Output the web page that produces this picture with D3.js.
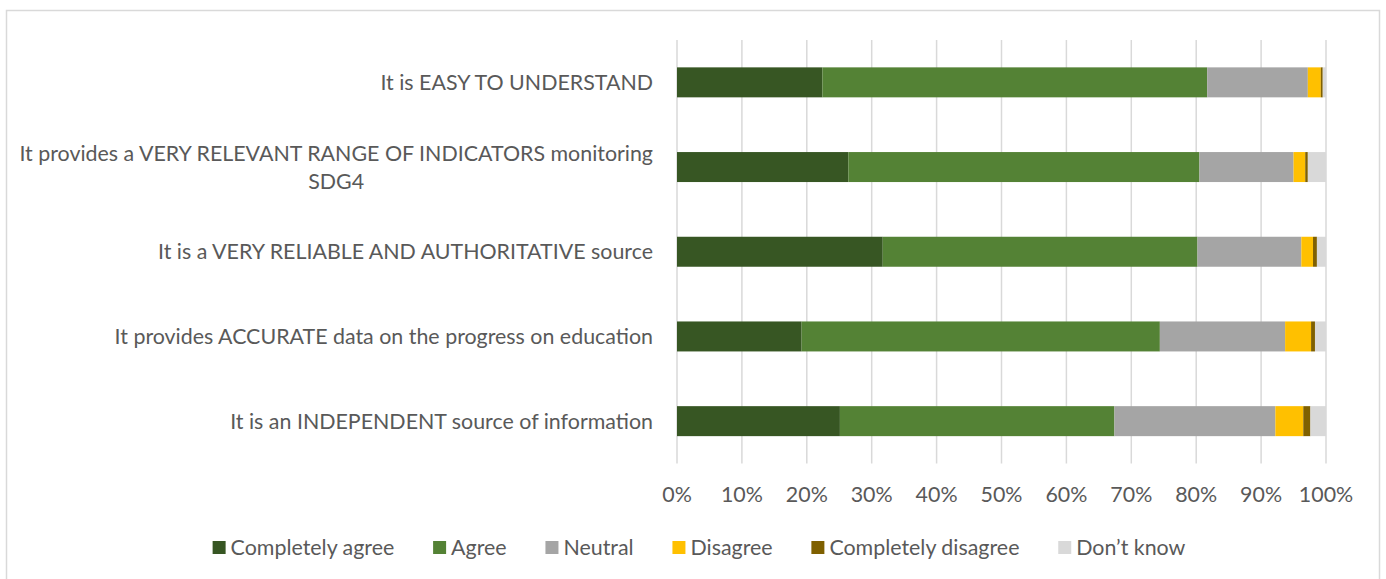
<!DOCTYPE html>
<html>
<head>
<meta charset="utf-8">
<script src="https://cdn.jsdelivr.net/npm/d3@7"></script>
<style>
  body { margin: 0; background: #fff; }
  svg text { font-family: Lato, "Open Sans", sans-serif; fill: #595959; }
</style>
</head>
<body>
<svg id="chart"></svg>
<script>
const categories = [
  "It is EASY TO UNDERSTAND",
  "It provides a VERY RELEVANT RANGE OF INDICATORS monitoring|SDG4",
  "It is a VERY RELIABLE AND AUTHORITATIVE source",
  "It provides ACCURATE data on the progress on education",
  "It is an INDEPENDENT source of information"
]
const seriesNames = ["Completely agree", "Agree", "Neutral", "Disagree", "Completely disagree", "Don\u2019t know"]
const seriesColors = ["#375623", "#548235", "#a5a5a5", "#ffc000", "#7f6000", "#d9d9d9"]

const completelyAgree    = [22.4, 26.4, 31.7, 19.2, 25.1]
const agree              = [59.3, 54.1, 48.5, 55.2, 42.3]
const neutral            = [15.5, 14.5, 16.0, 19.3, 24.8]
const disagree           = [2.0, 1.8, 1.8, 4.0, 4.3]
const completelyDisagree = [0.3, 0.4, 0.6, 0.6, 1.1]
const dontKnow           = [0.5, 2.8, 1.4, 1.7, 2.4]

const tickValues = [0, 10, 20, 30, 40, 50, 60, 70, 80, 90, 100]

const width = 1386, height = 579
const fs = '21.4px'

const svg = d3.select('#chart')
  .attr('width', width)
  .attr('height', height)

// chart frame
svg.append('rect')
  .attr('x', 6.5).attr('y', 10.5)
  .attr('width', 1373).attr('height', 600)
  .attr('fill', 'none')
  .attr('stroke', '#d9d9d9')
  .attr('stroke-width', 1.5)

const table = categories.map((c, i) => ({
  cat: c,
  values: [completelyAgree[i], agree[i], neutral[i], disagree[i], completelyDisagree[i], dontKnow[i]]
}))

const x = d3.scaleLinear().domain([0, 100]).range([677, 1326])
const y = d3.scaleBand().domain(categories).range([40, 463.5]).paddingInner(0.646).paddingOuter(0.323)

// gridlines
svg.append('g')
  .selectAll('line')
  .data(tickValues)
  .enter().append('line')
  .attr('x1', d => x(d)).attr('x2', d => x(d))
  .attr('y1', 40).attr('y2', 463.5)
  .style('stroke', '#d9d9d9')
  .attr('stroke-width', 1.5)

// stacked bars
const rows = svg.append('g')
  .selectAll('g')
  .data(table)
  .enter().append('g')

rows.selectAll('rect')
  .data(d => {
    let acc = 0
    return d.values.map((v, k) => {
      const seg = { cat: d.cat, k: k, x0: acc, x1: acc + v }
      acc += v
      return seg
    })
  })
  .enter().append('rect')
  .attr('x', d => x(d.x0))
  .attr('width', d => Math.max(0, x(d.x1) - x(d.x0)))
  .attr('y', d => y(d.cat))
  .attr('height', y.bandwidth())
  .attr('fill', d => seriesColors[d.k])

// category labels
const labelRight = 653
rows.each(function (d) {
  const lines = d.cat.split('|')
  const g = d3.select(this)
  const cy = y(d.cat) + y.bandwidth() / 2
  const lh = 28
  const t = g.append('text')
    .style('font-size', fs)
  lines.forEach((ln, i) => {
    t.append('tspan')
      .attr('y', cy + (i - (lines.length - 1) / 2) * lh)
      .attr('dy', '0.35em')
      .text(ln)
  })
  if (lines.length === 1) {
    t.attr('text-anchor', 'end')
    t.selectAll('tspan').attr('x', labelRight)
  } else {
    const tspans = t.selectAll('tspan').nodes()
    const maxW = d3.max(tspans, n => n.getComputedTextLength())
    t.attr('text-anchor', 'middle')
    t.selectAll('tspan').attr('x', labelRight - maxW / 2)
  }
})

// x tick labels
svg.append('g')
  .selectAll('text')
  .data(tickValues)
  .enter().append('text')
  .attr('x', d => x(d))
  .attr('y', 495)
  .attr('dy', '0.35em')
  .attr('text-anchor', 'middle')
  .style('font-size', fs)
  .text(d => d + '%')

// legend
const legend = svg.append('g')
const items = legend.selectAll('g')
  .data(seriesNames)
  .enter().append('g')
items.append('rect')
  .attr('width', 13).attr('height', 13)
  .attr('y', 541)
  .attr('fill', (d, i) => seriesColors[i])
items.append('text')
  .attr('x', 18)
  .attr('y', 548)
  .attr('dy', '0.35em')
  .style('font-size', fs)
  .text(d => d)

let pos = 0
const gap = 38.8
const offsets = []
items.each(function () {
  offsets.push(pos)
  const w = d3.select(this).select('text').node().getComputedTextLength()
  pos += 18 + w + gap
})
const total = pos - gap
const start = 699 - total / 2
items.attr('transform', (d, i) => 'translate(' + (start + offsets[i]) + ',0)')
</script>
</body>
</html>
